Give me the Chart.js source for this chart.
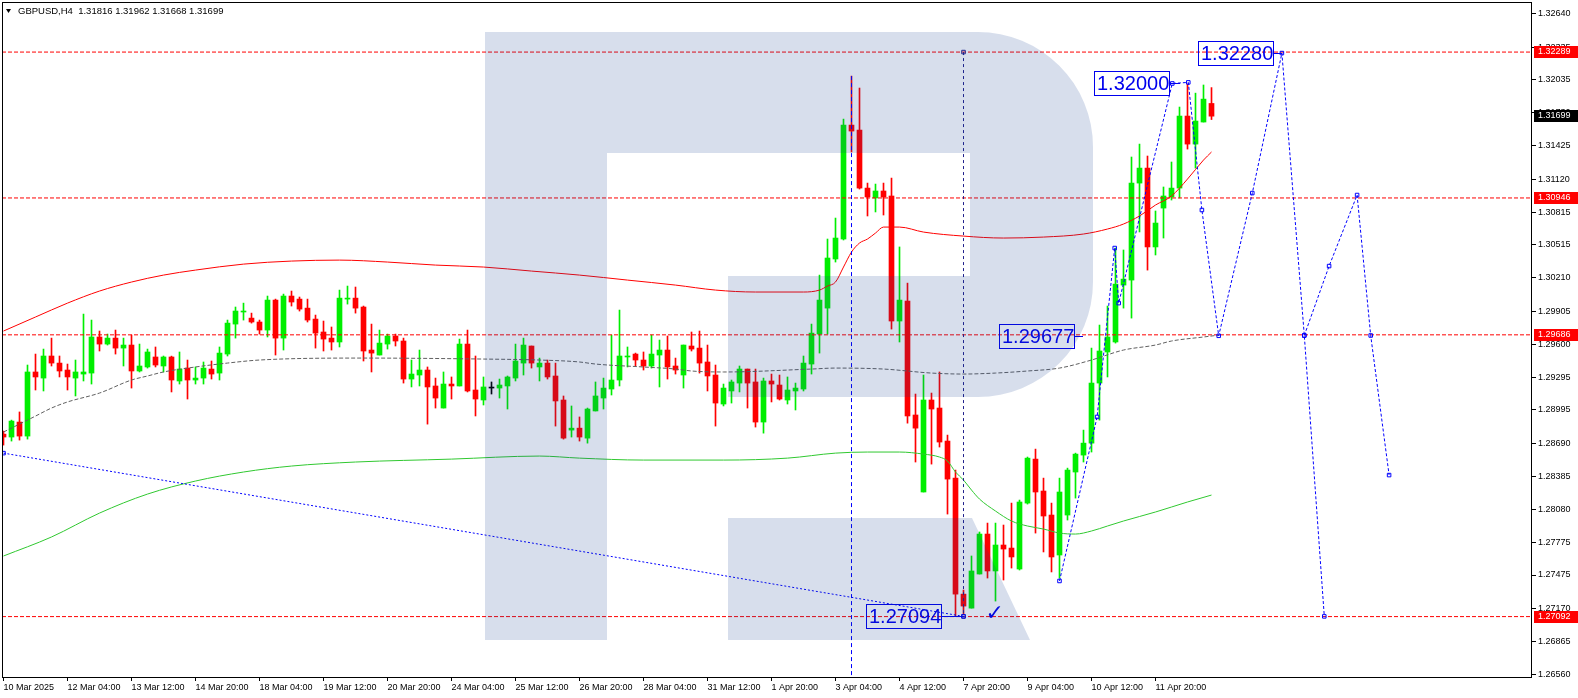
<!DOCTYPE html>
<html>
<head>
<meta charset="utf-8">
<title>GBPUSD H4</title>
<script src="https://cdn.jsdelivr.net/npm/chart.js@4.4.1/dist/chart.umd.min.js"></script>
<style>
  html, body { margin: 0; padding: 0; background: #fff; }
  #wrap { width: 1578px; height: 698px; }
</style>
</head>
<body>
<div id="wrap"><canvas id="chart" width="1578" height="698"></canvas></div>
<script>
// ==========================================
// DATA (H4 bars, 10 Mar 20:00 -> 14 Apr 2025)
// ==========================================
const symbolName = 'GBPUSD,H4';

const candleOpen = [
  1.28772, 1.28745, 1.28883, 1.28754, 1.29344, 1.29288, 1.29491, 1.29426,
  1.29362, 1.29288, 1.29325, 1.29334, 1.29666, 1.29601, 1.29656, 1.29564,
  1.29592, 1.29353, 1.29390, 1.29482, 1.29399, 1.29482, 1.29261, 1.29380,
  1.29270, 1.29288, 1.29371, 1.29334, 1.29509, 1.29785, 1.29896, 1.29840,
  1.29804, 1.29730, 1.30006, 1.29656, 1.30043, 1.30015, 1.29932, 1.29831,
  1.29712, 1.29656, 1.29620, 1.30015, 1.30024, 1.29942, 1.29546, 1.29500,
  1.29601, 1.29675, 1.29629, 1.29279, 1.29316, 1.29362, 1.29215, 1.29012,
  1.29233, 1.29215, 1.29601, 1.29178, 1.29086, 1.29196, 1.29196, 1.29215,
  1.29288, 1.29426, 1.29583, 1.29390, 1.29426, 1.29307, 1.29086, 1.28809,
  1.28827, 1.28735, 1.28985, 1.29104, 1.29187, 1.29270, 1.29482, 1.29509,
  1.29454, 1.29399, 1.29500, 1.29546, 1.29399, 1.29316, 1.29583, 1.29564,
  1.29436, 1.29316, 1.29049, 1.29169, 1.29242, 1.29371, 1.29252, 1.28883,
  1.29261, 1.29224, 1.29086, 1.29169, 1.29187, 1.29417, 1.29693, 1.29932,
  1.30384, 1.30568, 1.31617, 1.31571, 1.31037, 1.30946, 1.31010, 1.30964,
  1.29813, 1.29997, 1.28948, 1.28239, 1.29086, 1.29012, 1.28708, 1.28367,
  1.27299, 1.27170, 1.27484, 1.27852, 1.27512, 1.27751, 1.27723, 1.27530,
  1.28137, 1.28542, 1.28248, 1.28027, 1.27659, 1.28027, 1.28423, 1.28579,
  1.28689, 1.29242, 1.29528, 1.29620, 1.30144, 1.30190, 1.31083, 1.31221,
  1.30495, 1.30853, 1.30955, 1.31037, 1.31700, 1.31442, 1.31645, 1.31816
];
const candleHigh = [
  1.28800, 1.28901, 1.28976, 1.29408, 1.29509, 1.29555, 1.29656, 1.29491,
  1.29417, 1.29454, 1.29877, 1.29822, 1.29721, 1.29693, 1.29730, 1.29656,
  1.29684, 1.29601, 1.29555, 1.29574, 1.29491, 1.29490, 1.29528, 1.29454,
  1.29390, 1.29436, 1.29445, 1.29574, 1.29822, 1.29942, 1.29978, 1.29886,
  1.29822, 1.30043, 1.30015, 1.30061, 1.30089, 1.30034, 1.30015, 1.29868,
  1.29813, 1.29758, 1.30098, 1.30135, 1.30126, 1.29951, 1.29785, 1.29730,
  1.29693, 1.29693, 1.29656, 1.29454, 1.29546, 1.29390, 1.29288, 1.29344,
  1.29298, 1.29647, 1.29730, 1.29491, 1.29298, 1.29252, 1.29279, 1.29307,
  1.29601, 1.29656, 1.29583, 1.29472, 1.29454, 1.29426, 1.29123, 1.29031,
  1.28930, 1.29012, 1.29252, 1.29288, 1.29684, 1.29914, 1.29574, 1.29518,
  1.29528, 1.29684, 1.29638, 1.29675, 1.29472, 1.29592, 1.29712, 1.29721,
  1.29592, 1.29408, 1.29233, 1.29270, 1.29399, 1.29371, 1.29371, 1.29288,
  1.29325, 1.29316, 1.29298, 1.29242, 1.29491, 1.29785, 1.30236, 1.30568,
  1.30761, 1.31672, 1.32068, 1.31958, 1.31083, 1.31074, 1.31083, 1.31129,
  1.30495, 1.30162, 1.29141, 1.29316, 1.29150, 1.29344, 1.28763, 1.28441,
  1.27336, 1.27650, 1.27871, 1.27953, 1.27953, 1.27935, 1.28137, 1.28165,
  1.28561, 1.28634, 1.28367, 1.28137, 1.28367, 1.28459, 1.28597, 1.28809,
  1.29564, 1.29776, 1.29951, 1.30485, 1.30467, 1.31323, 1.31442, 1.31332,
  1.30826, 1.31047, 1.31277, 1.31783, 1.31995, 1.31911, 1.31986, 1.31962
];
const candleLow = [
  1.28671, 1.28708, 1.28717, 1.28726, 1.29178, 1.29169, 1.29399, 1.29298,
  1.29178, 1.29123, 1.29261, 1.29233, 1.29537, 1.29592, 1.29509, 1.29399,
  1.29196, 1.29344, 1.29380, 1.29390, 1.29344, 1.29160, 1.29233, 1.29095,
  1.29233, 1.29233, 1.29279, 1.29270, 1.29491, 1.29656, 1.29822, 1.29794,
  1.29693, 1.29666, 1.29500, 1.29546, 1.29951, 1.29905, 1.29804, 1.29564,
  1.29537, 1.29546, 1.29574, 1.29969, 1.29886, 1.29445, 1.29344, 1.29500,
  1.29555, 1.29583, 1.29242, 1.29206, 1.29215, 1.28864, 1.29012, 1.29012,
  1.29095, 1.29215, 1.29160, 1.28939, 1.29040, 1.29141, 1.29104, 1.29003,
  1.29261, 1.29316, 1.29380, 1.29261, 1.29279, 1.28846, 1.28726, 1.28745,
  1.28708, 1.28689, 1.28985, 1.29003, 1.29132, 1.29215, 1.29390, 1.29399,
  1.29362, 1.29380, 1.29206, 1.29279, 1.29325, 1.29196, 1.29537, 1.29334,
  1.29169, 1.28846, 1.29031, 1.29058, 1.29160, 1.29012, 1.28837, 1.28781,
  1.29068, 1.29086, 1.29049, 1.28994, 1.29169, 1.29325, 1.29518, 1.29693,
  1.30356, 1.30559, 1.31369, 1.31028, 1.30780, 1.30817, 1.30789, 1.29739,
  1.29620, 1.28873, 1.28515, 1.28239, 1.28496, 1.28653, 1.28036, 1.27094,
  1.27115, 1.27170, 1.27484, 1.27447, 1.27235, 1.27429, 1.27539, 1.27521,
  1.28128, 1.27861, 1.27687, 1.27503, 1.27447, 1.27981, 1.28183, 1.28515,
  1.28607, 1.28901, 1.29298, 1.29610, 1.29932, 1.29840, 1.30633, 1.30282,
  1.30421, 1.30577, 1.30927, 1.30946, 1.31396, 1.31221, 1.31645, 1.31668
];
const candleClose = [
  1.28745, 1.28892, 1.28754, 1.29344, 1.29298, 1.29491, 1.29426, 1.29353,
  1.29298, 1.29344, 1.29344, 1.29666, 1.29601, 1.29656, 1.29564, 1.29592,
  1.29353, 1.29399, 1.29528, 1.29408, 1.29482, 1.29270, 1.29371, 1.29270,
  1.29288, 1.29380, 1.29325, 1.29518, 1.29794, 1.29905, 1.29905, 1.29804,
  1.29730, 1.30006, 1.29656, 1.30043, 1.29988, 1.29923, 1.29822, 1.29702,
  1.29647, 1.29620, 1.30024, 1.30024, 1.29932, 1.29537, 1.29518, 1.29610,
  1.29675, 1.29629, 1.29279, 1.29325, 1.29362, 1.29206, 1.29104, 1.29233,
  1.29215, 1.29601, 1.29169, 1.29095, 1.29206, 1.29196, 1.29224, 1.29298,
  1.29445, 1.29592, 1.29426, 1.29426, 1.29298, 1.29077, 1.28735, 1.28827,
  1.28745, 1.29003, 1.29123, 1.29196, 1.29270, 1.29491, 1.29491, 1.29454,
  1.29399, 1.29509, 1.29546, 1.29390, 1.29362, 1.29592, 1.29555, 1.29426,
  1.29307, 1.29058, 1.29196, 1.29252, 1.29371, 1.29242, 1.28883, 1.29261,
  1.29233, 1.29095, 1.29178, 1.29196, 1.29426, 1.29702, 1.30006, 1.30393,
  1.30577, 1.31617, 1.31562, 1.31037, 1.30955, 1.31010, 1.30955, 1.29813,
  1.30006, 1.28939, 1.28827, 1.29086, 1.29003, 1.28699, 1.28358, 1.27299,
  1.27189, 1.27512, 1.27852, 1.27512, 1.27751, 1.27714, 1.27641, 1.28147,
  1.28551, 1.28239, 1.28018, 1.27641, 1.28239, 1.28441, 1.28588, 1.28689,
  1.29242, 1.29537, 1.29666, 1.30153, 1.30199, 1.31083, 1.31221, 1.30495,
  1.30715, 1.30964, 1.31037, 1.31700, 1.31442, 1.31654, 1.31856, 1.31699
];

// moving averages: [bar index, price]
const maRed = [
  [0, 1.29721], [4, 1.29850], [8, 1.29978], [12, 1.30089], [16, 1.30172], [20, 1.30236],
  [24, 1.30282], [30, 1.30337], [36, 1.30365], [42, 1.30374], [48, 1.30356], [54, 1.30328],
  [60, 1.30310], [66, 1.30273], [72, 1.30236], [78, 1.30190], [84, 1.30144], [89, 1.30098],
  [94, 1.30080], [100, 1.30080], [102, 1.30098], [103, 1.30135], [104, 1.30172], [105, 1.30310],
  [106, 1.30448], [107, 1.30531], [108, 1.30568], [109, 1.30623], [110, 1.30678], [112, 1.30678],
  [115, 1.30632], [120, 1.30595], [125, 1.30577], [130, 1.30586], [135, 1.30614], [138, 1.30660],
  [140, 1.30706], [142, 1.30780], [144, 1.30881], [146, 1.30964], [148, 1.31120], [150, 1.31295],
  [151, 1.31369]
];
const maDashed = [
  [0, 1.28791], [4, 1.28938], [6, 1.29012], [8, 1.29068], [12, 1.29150], [16, 1.29270],
  [18, 1.29307], [20, 1.29344], [24, 1.29390], [28, 1.29426], [32, 1.29454], [45, 1.29472],
  [60, 1.29463], [67, 1.29454], [72, 1.29436], [74, 1.29417], [80, 1.29390], [84, 1.29371],
  [86, 1.29353], [90, 1.29344], [101, 1.29371], [104, 1.29380], [110, 1.29371], [116, 1.29334],
  [120, 1.29325], [124, 1.29334], [128, 1.29353], [132, 1.29380], [136, 1.29454], [140, 1.29546],
  [144, 1.29592], [146, 1.29629], [150, 1.29666], [152, 1.29684]
];
const maGreen = [
  [0, 1.27650], [6, 1.27825], [12, 1.28045], [18, 1.28220], [24, 1.28340], [30, 1.28423],
  [36, 1.28478], [44, 1.28515], [56, 1.28542], [67, 1.28570], [72, 1.28551], [80, 1.28533],
  [90, 1.28533], [98, 1.28551], [104, 1.28597], [108, 1.28607], [112, 1.28607], [115, 1.28588],
  [117, 1.28561], [118, 1.28524], [119, 1.28423], [120, 1.28349], [121, 1.28257], [122, 1.28174],
  [124, 1.28064], [126, 1.27972], [128, 1.27926], [130, 1.27898], [132, 1.27861], [134, 1.27852],
  [136, 1.27880], [138, 1.27926], [140, 1.27972], [144, 1.28055], [148, 1.28147], [151, 1.28211]
];

// drawn objects: trend line and forecast path [bar index, price]
const trendLine = [[0, 1.28597], [120, 1.27094]];
const forecastMain = [
  [132, 1.27420], [136.7, 1.28930], [138.9, 1.30485], [139.4, 1.29978], [146.1, 1.32000],
  [148.1, 1.32010], [149.8, 1.30835], [151.9, 1.29677], [156.1, 1.30991], [159.8, 1.32280],
  [162.6, 1.29680], [165.1, 1.27094]
];
const forecastAlt = [
  [162.6, 1.29680], [165.7, 1.30319], [169.2, 1.30973], [170.9, 1.29680], [173.2, 1.28395]
];
const levelLines = [1.32289, 1.30946, 1.29686, 1.27092];
const markerLines = [[106, 1.32068, null], [120, 1.32289, 1.27094]];
const priceNotes = [
  ['1.27094', 120, 1.27094], ['1.29677', 134.9, 1.29677],
  ['1.32000', 147.06, 1.32000], ['1.32280', 159.8, 1.32280]
];
const checkMark = [123.9, 1.27110];

const xTickLabels = [
  '10 Mar 2025', '12 Mar 04:00', '13 Mar 12:00', '14 Mar 20:00', '18 Mar 04:00',
  '19 Mar 12:00', '20 Mar 20:00', '24 Mar 04:00', '25 Mar 12:00', '26 Mar 20:00',
  '28 Mar 04:00', '31 Mar 12:00', '1 Apr 20:00', '3 Apr 04:00', '4 Apr 12:00',
  '7 Apr 20:00', '9 Apr 04:00', '10 Apr 12:00', '11 Apr 20:00'
];
const yTickLabels = [
  '1.32640', '1.32335', '1.32035', '1.31730', '1.31425', '1.31120', '1.30815',
  '1.30515', '1.30210', '1.29905', '1.29600', '1.29295', '1.28995', '1.28690',
  '1.28385', '1.28080', '1.27775', '1.27475', '1.27170', '1.26865', '1.26560'
];

// ==========================================
// LOOK
// ==========================================
const X_MIN = -0.1875, X_MAX = 191.0625;
const Y_MIN = 1.26536, Y_MAX = 1.32750;
const BARS_PER_LABEL = 8;
const UP = '#00ee00', DOWN = '#ff0000', FLAT = '#000000';
const NOTE_BLUE = '#0000ee';
const NOTE_GAP = [23, 9, 11, 9];
const FONT = '"Liberation Sans", Arial, sans-serif';

const candleColors = candleOpen.map((o, i) =>
  candleClose[i] > o ? UP : (candleClose[i] < o ? DOWN : FLAT));
const toPoints = arr => arr.map(p => ({ x: p[0], y: p[1] }));

const datasets = [
  {
    type: 'bar', order: 10, grouped: false, barThickness: 1, minBarLength: 1,
    data: candleLow.map((l, i) => ({ x: i, y: [l, candleHigh[i]] })),
    backgroundColor: candleColors, borderWidth: 0
  },
  {
    type: 'bar', order: 9, grouped: false, barThickness: 5, minBarLength: 1,
    data: candleOpen.map((o, i) => ({ x: i, y: [o, candleClose[i]] })),
    backgroundColor: candleColors, borderWidth: 0
  }
];

levelLines.forEach(v => datasets.push({
  type: 'line', order: 6, data: [{ x: X_MIN, y: v }, { x: X_MAX, y: v }],
  borderColor: '#ff0000', borderWidth: 1, borderDash: [4, 2], pointRadius: 0
}));

datasets.push(
  { type: 'line', order: 5, data: toPoints(maRed), borderColor: '#ff0000', borderWidth: 1,
    pointRadius: 0, cubicInterpolationMode: 'monotone' },
  { type: 'line', order: 5, data: toPoints(maDashed), borderColor: '#606060', borderWidth: 1,
    borderDash: [4, 2], pointRadius: 0, cubicInterpolationMode: 'monotone' },
  { type: 'line', order: 5, data: toPoints(maGreen), borderColor: '#30c830', borderWidth: 1,
    pointRadius: 0, cubicInterpolationMode: 'monotone' }
);

const blueDotted = {
  type: 'line', order: 1, borderColor: '#0000ff', borderWidth: 1, borderDash: [3, 2],
  tension: 0, pointStyle: 'rect', pointRadius: 2.5, pointBorderWidth: 1,
  pointBorderColor: '#0000ff', pointBackgroundColor: 'rgba(255,255,255,0)'
};
datasets.push(
  Object.assign({}, blueDotted, { data: toPoints(trendLine), borderDash: [2, 2] }),
  Object.assign({}, blueDotted, { data: toPoints(forecastMain) }),
  Object.assign({}, blueDotted, { data: toPoints(forecastAlt) })
);

markerLines.forEach((m, k) => datasets.push({
  type: 'line', order: 2,
  data: [{ x: m[0], y: m[1] }, { x: m[0], y: m[2] === null ? Y_MIN : m[2] }],
  borderColor: k === 0 ? '#0000ff' : '#20208c', borderWidth: 1,
  borderDash: k === 0 ? [4, 3] : [3, 3],
  pointStyle: 'rect', pointRadius: k === 0 ? 0 : 2.5, pointBorderWidth: 1,
  pointBorderColor: '#20208c', pointBackgroundColor: 'rgba(255,255,255,0)'
}));

// ==========================================
// PLUGINS: notes, watermark, frame, price tags
// ==========================================
const notesAndLogo = {
  id: 'notesAndLogo',
  afterDatasetsDraw(chart) {
    const { ctx, chartArea: a, scales: { x, y } } = chart;
    ctx.save();
    ctx.beginPath();
    ctx.rect(a.left, a.top, a.right - a.left, a.bottom - a.top);
    ctx.clip();

    // price labels with connectors
    ctx.font = '20px ' + FONT;
    ctx.textBaseline = 'middle';
    ctx.textAlign = 'left';
    priceNotes.forEach((n, k) => {
      const ax = Math.round(x.getPixelForValue(n[1]));
      const ay = Math.round(y.getPixelForValue(n[2]));
      const right = ax - NOTE_GAP[k];
      const left = right - 75;
      ctx.strokeStyle = NOTE_BLUE;
      ctx.lineWidth = 1;
      ctx.strokeRect(left + 0.5, ay - 12 + 0.5, 75, 24);
      ctx.beginPath();
      ctx.moveTo(right, ay + 0.5);
      ctx.lineTo(ax, ay + 0.5);
      ctx.stroke();
      ctx.fillStyle = NOTE_BLUE;
      ctx.fillText(n[0], left + 3, ay + 1);
    });

    // check mark
    ctx.font = '22px "DejaVu Sans", sans-serif';
    ctx.textAlign = 'center';
    ctx.fillStyle = NOTE_BLUE;
    ctx.fillText('\u2713', x.getPixelForValue(checkMark[0]), y.getPixelForValue(checkMark[1]));

    // watermark "R" (semi-transparent, on top of the bars)
    ctx.fillStyle = 'rgba(20, 60, 140, 0.17)';
    ctx.beginPath();
    ctx.moveTo(485, 32);
    ctx.lineTo(978, 32);
    ctx.arcTo(1093, 32, 1093, 147, 115);
    ctx.lineTo(1093, 282);
    ctx.arcTo(1093, 397, 978, 397, 115);
    ctx.lineTo(728, 397);
    ctx.lineTo(728, 276);
    ctx.lineTo(970, 276);
    ctx.lineTo(970, 153);
    ctx.lineTo(607, 153);
    ctx.lineTo(607, 640);
    ctx.lineTo(485, 640);
    ctx.closePath();
    ctx.moveTo(728, 518);
    ctx.lineTo(972, 518);
    ctx.lineTo(1030, 640);
    ctx.lineTo(728, 640);
    ctx.closePath();
    ctx.fill();
    ctx.restore();
  }
};

const frameAndTags = {
  id: 'frameAndTags',
  afterDraw(chart) {
    const { ctx, chartArea: a, scales: { y } } = chart;
    const last = candleOpen.length - 1;
    ctx.save();
    ctx.strokeStyle = '#000';
    ctx.lineWidth = 1;
    ctx.strokeRect(a.left + 0.5, a.top + 0.5, a.right - a.left - 1, a.bottom - a.top);

    // title
    ctx.fillStyle = '#000';
    ctx.beginPath();
    ctx.moveTo(6, 9); ctx.lineTo(11, 9); ctx.lineTo(8.5, 13);
    ctx.closePath();
    ctx.fill();
    ctx.font = '9.5px ' + FONT;
    ctx.textBaseline = 'middle';
    ctx.textAlign = 'left';
    const ohlc = [candleOpen[last], candleHigh[last], candleLow[last], candleClose[last]];
    ctx.fillText(symbolName + '  ' + ohlc.map(v => v.toFixed(5)).join(' '), 18, 11);

    // price tags on the axis
    const tags = levelLines.map(v => [v, '#ff0000']).concat([[candleClose[last], '#000000']]);
    ctx.font = '9px ' + FONT;
    tags.forEach(t => {
      const py = Math.round(y.getPixelForValue(t[0]));
      ctx.fillStyle = t[1];
      ctx.fillRect(a.right + 2, py - 6, chart.width - a.right - 2, 12);
      ctx.fillStyle = '#fff';
      ctx.fillText(t[0].toFixed(5), a.right + 6, py);
    });
    ctx.restore();
  }
};

// scale paddings off, so the plot area is exactly where the layout puts it
const noPad = s => {
  s.paddingTop = 0; s.paddingBottom = 0; s.paddingLeft = 0; s.paddingRight = 0;
};

// ==========================================
// CHART
// ==========================================
new Chart(document.getElementById('chart'), {
  type: 'bar',
  data: { datasets: datasets },
  options: {
    responsive: false,
    animation: false,
    devicePixelRatio: 1,
    events: [],
    layout: { autoPadding: false, padding: { left: 2, top: 2, right: 0, bottom: 0 } },
    plugins: { legend: { display: false }, tooltip: { enabled: false } },
    scales: {
      x: {
        type: 'linear', min: X_MIN, max: X_MAX, offset: false,
        grid: { drawOnChartArea: false, drawTicks: true, tickLength: 4, color: '#000', offset: false },
        border: { display: false },
        ticks: {
          autoSkip: false, maxRotation: 0, minRotation: 0, align: 'start', padding: 1,
          color: '#000', font: { family: FONT, size: 9 },
          callback: v => xTickLabels[v / BARS_PER_LABEL]
        },
        afterBuildTicks: s => { s.ticks = xTickLabels.map((t, k) => ({ value: k * BARS_PER_LABEL })); },
        afterFit: s => { s.height = 21; noPad(s); }
      },
      y: {
        type: 'linear', position: 'right', min: Y_MIN, max: Y_MAX,
        grid: { drawOnChartArea: false, drawTicks: true, tickLength: 4, color: '#000' },
        border: { display: false },
        ticks: {
          autoSkip: false, padding: 2, color: '#000', font: { family: FONT, size: 9 },
          callback: (v, k) => yTickLabels[k]
        },
        afterBuildTicks: s => { s.ticks = yTickLabels.map(t => ({ value: parseFloat(t) })); },
        afterFit: s => { s.width = 46; noPad(s); }
      }
    }
  },
  plugins: [notesAndLogo, frameAndTags]
});
</script>
</body>
</html>
